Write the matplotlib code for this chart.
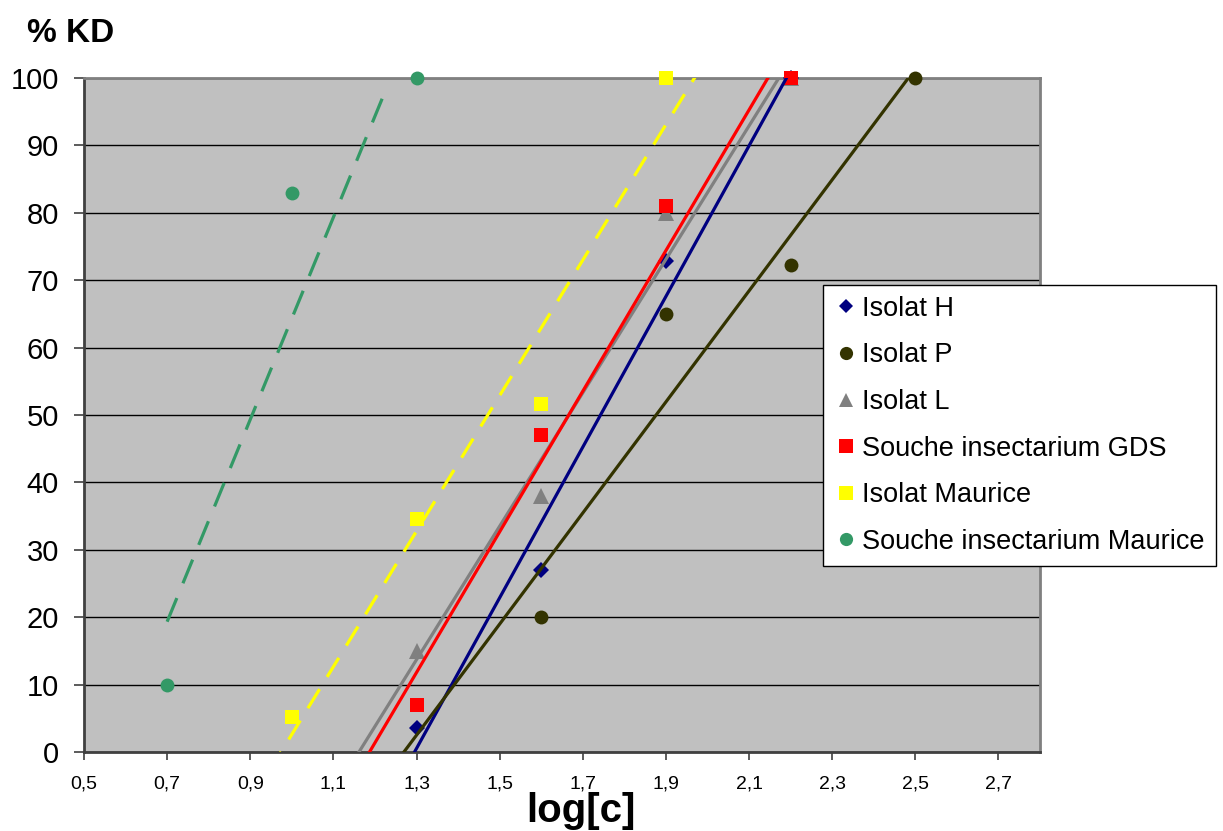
import numpy as np
import matplotlib
matplotlib.use("Agg")
import matplotlib.pyplot as plt
from matplotlib.lines import Line2D

plt.rcParams['font.family'] = ['Liberation Sans', 'DejaVu Sans']

# donnees
noms = ["Isolat H", "Isolat P", "Isolat L", "Souche insectarium GDS",
        "Isolat Maurice", "Souche insectarium Maurice"]
x_h = [1.3, 1.6, 1.9, 2.2]
y_h = [3.5, 27, 72.8, 100]
x_p = [1.6, 1.9, 2.2, 2.5]
y_p = [20, 65, 72.2, 100]
x_l = [1.3, 1.6, 1.9, 2.2]
y_l = [15, 38, 80, 100]
x_gds = [1.3, 1.6, 1.9, 2.2]
y_gds = [7, 47, 81, 100]
x_mau = [1.0, 1.3, 1.6, 1.9]
y_mau = [5.2, 34.5, 51.7, 100]
x_smau = [0.7, 1.0, 1.3]
y_smau = [10, 83, 100]
# etendue des courbes de tendance (prevision avant/arriere)
tend_x = [(0.9, 2.6), (0.9, 2.6), (0.9, 2.6), (0.9, 2.6), (0.9, 2.6), (0.7, 1.225)]

xs = [x_h, x_p, x_l, x_gds, x_mau, x_smau]
ys = [y_h, y_p, y_l, y_gds, y_mau, y_smau]
couleurs = ['#000080', '#333300', '#808080', '#FF0000', '#FFFF00', '#339966']
marqueurs = ['D', 'o', '^', 's', 's', 'o']
tailles = [8, 10, 11, 10, 10, 10]
styles = ['-', '-', '-', '-', (0, (7, 4.5)), (0, (8, 5))]

fig = plt.figure(figsize=(12.23, 8.31), dpi=100)
ax = fig.add_axes([84/1223, 79/831, 956/1223, 674/831])
ax.set_facecolor('#C0C0C0')

for i in range(6):
    ax.plot(xs[i], ys[i], linestyle='none', marker=marqueurs[i], color=couleurs[i],
            markersize=tailles[i], markeredgewidth=0, clip_on=False, zorder=3)

for i in range(6):
    a, b = np.polyfit(xs[i], ys[i], 1)
    xt = np.array(tend_x[i])
    ax.plot(xt, a * xt + b, color=couleurs[i], linewidth=2.3, linestyle=styles[i],
            zorder=4, solid_capstyle='butt', dash_capstyle='butt')

ax.set_xlim(0.5, 2.8)
ax.set_ylim(0, 100)
ax.set_yticks(range(0, 101, 10))
ax.set_xticks(np.arange(0.5, 2.75, 0.2))
ax.set_xticklabels([f"{v:.1f}".replace('.', ',') for v in np.arange(0.5, 2.75, 0.2)],
                   fontsize=14)
ax.tick_params(axis='y', labelsize=21, length=7, width=1.2, pad=11, color='#404040')
ax.tick_params(axis='x', length=6, width=1.2, pad=11, color='#404040')
ax.yaxis.grid(True, color='black', linewidth=1)
ax.set_axisbelow(True)

for s in ['left', 'bottom']:
    ax.spines[s].set_color('#404040')
    ax.spines[s].set_linewidth(2)
for s in ['top', 'right']:
    ax.spines[s].set_color('#808080')
    ax.spines[s].set_linewidth(2)

fig.text(27/1223, 1 - 42/831, "% KD", fontsize=24, fontweight='bold', ha='left', va='baseline')
fig.text(581/1223, 1 - 822/831, "log[c]", fontsize=29, fontweight='bold', ha='center', va='baseline')

poignees = [Line2D([], [], linestyle='none', marker=marqueurs[i], color=couleurs[i],
                   markersize=tailles[i] * 0.95, markeredgewidth=0) for i in range(6)]
leg = fig.legend(poignees, noms, loc='upper left', bbox_to_anchor=(823/1223, 1 - 285/831),
                 borderaxespad=0, fontsize=19.5, frameon=True, fancybox=False,
                 framealpha=1, edgecolor='black', handlelength=0.9, handletextpad=0.15,
                 labelspacing=0.76, borderpad=0.4)
leg.get_frame().set_linewidth(1)

fig.savefig('out.png', dpi=100)
